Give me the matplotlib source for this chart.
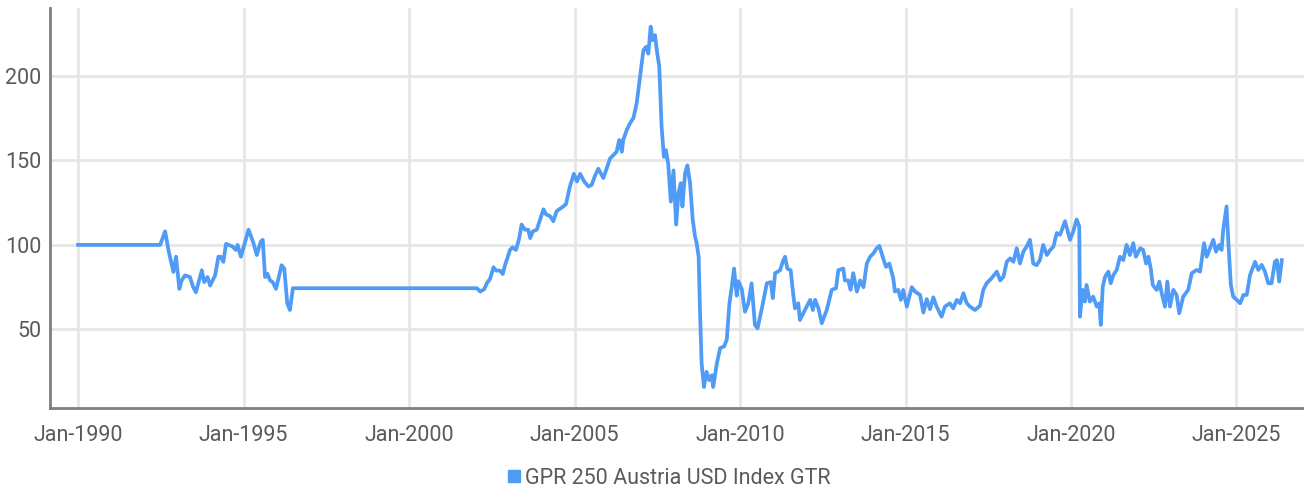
import matplotlib
matplotlib.use("Agg")
import matplotlib.pyplot as plt
from matplotlib.lines import Line2D

plt.rcParams['font.family'] = ['Roboto', 'DejaVu Sans']

series_name = "GPR 250 Austria USD Index GTR"

# index readings (decimal year, value)
years = [
    1990.00, 1992.48, 1992.63, 1992.73, 1992.88, 1992.96, 1993.06, 1993.13, 1993.23, 1993.38,
    1993.48, 1993.56, 1993.74, 1993.81, 1993.91, 1993.99, 1994.14, 1994.24, 1994.31, 1994.39,
    1994.47, 1994.67, 1994.77, 1994.82, 1994.92, 1995.15, 1995.30, 1995.40, 1995.52, 1995.58,
    1995.65, 1995.72, 1995.80, 1995.88, 1995.98, 1996.15, 1996.23, 1996.32, 1996.40, 1996.49,
    2002.05, 2002.15, 2002.27, 2002.35, 2002.45, 2002.55, 2002.63, 2002.75, 2002.83, 2002.90,
    2003.05, 2003.13, 2003.23, 2003.33, 2003.40, 2003.50, 2003.60, 2003.66, 2003.74, 2003.86,
    2003.96, 2004.06, 2004.14, 2004.26, 2004.36, 2004.46, 2004.61, 2004.74, 2004.86, 2004.98,
    2005.07, 2005.17, 2005.29, 2005.42, 2005.52, 2005.62, 2005.72, 2005.87, 2005.97, 2006.07,
    2006.17, 2006.27, 2006.35, 2006.43, 2006.47, 2006.58, 2006.68, 2006.78, 2006.88, 2006.98,
    2007.08, 2007.16, 2007.23, 2007.30, 2007.36, 2007.43, 2007.50, 2007.56, 2007.63, 2007.70,
    2007.76, 2007.83, 2007.91, 2007.99, 2008.07, 2008.14, 2008.21, 2008.26, 2008.34, 2008.41,
    2008.49, 2008.57, 2008.64, 2008.69, 2008.75, 2008.79, 2008.84, 2008.91, 2008.99, 2009.07,
    2009.15, 2009.19, 2009.30, 2009.40, 2009.52, 2009.60, 2009.68, 2009.75, 2009.82, 2009.90,
    2009.95, 2010.05, 2010.15, 2010.25, 2010.35, 2010.45, 2010.53, 2010.66, 2010.81, 2010.93,
    2010.99, 2011.06, 2011.21, 2011.29, 2011.36, 2011.43, 2011.53, 2011.61, 2011.66, 2011.76,
    2011.81, 2011.96, 2012.12, 2012.20, 2012.27, 2012.37, 2012.47, 2012.62, 2012.77, 2012.90,
    2012.97, 2013.12, 2013.17, 2013.27, 2013.34, 2013.42, 2013.53, 2013.63, 2013.73, 2013.83,
    2013.93, 2014.03, 2014.13, 2014.21, 2014.31, 2014.41, 2014.51, 2014.63, 2014.68, 2014.78,
    2014.86, 2014.93, 2015.04, 2015.19, 2015.29, 2015.44, 2015.54, 2015.64, 2015.74, 2015.84,
    2015.94, 2016.09, 2016.19, 2016.34, 2016.44, 2016.55, 2016.65, 2016.75, 2016.85, 2016.95,
    2017.10, 2017.25, 2017.35, 2017.45, 2017.60, 2017.76, 2017.86, 2017.96, 2018.06, 2018.16,
    2018.26, 2018.36, 2018.46, 2018.56, 2018.66, 2018.76, 2018.86, 2018.96, 2019.06, 2019.16,
    2019.27, 2019.37, 2019.47, 2019.57, 2019.67, 2019.82, 2019.97, 2020.07, 2020.17, 2020.25,
    2020.27, 2020.35, 2020.42, 2020.47, 2020.57, 2020.67, 2020.78, 2020.86, 2020.90, 2020.96,
    2021.03, 2021.13, 2021.20, 2021.28, 2021.38, 2021.48, 2021.58, 2021.68, 2021.78, 2021.88,
    2021.96, 2022.09, 2022.18, 2022.27, 2022.34, 2022.41, 2022.47, 2022.59, 2022.67, 2022.74,
    2022.84, 2022.91, 2022.99, 2023.09, 2023.19, 2023.27, 2023.39, 2023.54, 2023.65, 2023.80,
    2023.90, 2024.02, 2024.10, 2024.20, 2024.30, 2024.38, 2024.48, 2024.55, 2024.60, 2024.70,
    2024.75, 2024.83, 2024.90, 2025.01, 2025.11, 2025.21, 2025.31, 2025.41, 2025.56, 2025.66,
    2025.76, 2025.86, 2025.96, 2026.06, 2026.16, 2026.22, 2026.29, 2026.37,
]
values = [
    100.0, 100.0, 108.0, 97.0, 84.0, 93.0, 74.0, 79.0, 82.0, 81.0,
    75.0, 72.0, 85.0, 78.0, 81.0, 76.0, 82.0, 93.0, 93.0, 90.0,
    100.6, 99.0, 97.0, 100.0, 93.0, 109.0, 101.0, 94.0, 102.0, 103.0,
    81.0, 83.0, 79.0, 78.0, 74.0, 88.0, 86.0, 65.5, 61.5, 74.4,
    74.4, 72.4, 73.8, 77.3, 80.0, 86.8, 84.8, 84.8, 82.8, 88.0,
    97.0, 98.6, 97.0, 104.0, 112.0, 109.0, 109.0, 104.0, 108.0, 109.0,
    115.0, 121.0, 118.0, 117.0, 114.0, 120.0, 122.0, 124.0, 134.5, 142.0,
    137.5, 142.0, 137.5, 134.5, 135.5, 141.0, 145.0, 139.5, 145.0, 151.0,
    153.0, 155.0, 162.0, 155.0, 162.0, 168.0, 172.0, 175.0, 184.0, 199.6,
    215.0, 217.0, 213.0, 229.0, 221.0, 224.0, 213.0, 205.5, 170.0, 152.0,
    156.0, 148.0, 125.6, 144.0, 112.0, 130.6, 136.5, 122.7, 142.4, 147.0,
    136.5, 115.0, 105.0, 101.0, 93.0, 61.5, 30.0, 16.0, 25.0, 20.0,
    23.0, 16.0, 30.0, 39.0, 40.0, 44.0, 65.5, 75.0, 86.0, 70.0,
    78.5, 74.0, 60.5, 65.5, 77.3, 52.7, 50.7, 62.5, 77.3, 78.0,
    68.5, 83.3, 85.0, 90.0, 93.0, 86.0, 85.0, 70.4, 62.5, 65.5,
    55.6, 61.5, 67.5, 61.5, 67.5, 62.5, 53.7, 61.5, 73.4, 74.4,
    85.0, 86.0, 79.0, 79.0, 73.4, 83.3, 72.4, 79.0, 75.0, 89.0,
    93.0, 95.0, 98.0, 99.4, 93.0, 87.0, 89.0, 80.3, 72.4, 73.4,
    67.5, 73.4, 63.5, 75.0, 72.4, 70.4, 60.0, 68.0, 62.0, 69.0,
    63.5, 57.6, 63.5, 65.5, 62.5, 67.5, 65.5, 71.4, 65.5, 63.5,
    61.5, 64.0, 73.4, 77.3, 80.3, 84.2, 79.0, 81.2, 90.0, 92.0,
    90.0, 98.0, 89.0, 96.0, 99.0, 103.0, 89.0, 88.0, 91.0, 100.0,
    94.0, 97.0, 99.0, 107.0, 106.0, 114.0, 103.0, 108.0, 115.0, 111.0,
    57.6, 73.4, 66.5, 76.3, 66.5, 69.4, 63.5, 65.5, 52.7, 75.3,
    81.2, 84.2, 77.3, 82.2, 85.2, 93.0, 91.0, 100.0, 94.0, 101.0,
    93.0, 98.0, 97.0, 89.0, 93.0, 86.0, 76.3, 73.4, 78.3, 71.4,
    63.5, 78.3, 63.5, 73.4, 70.4, 59.6, 69.4, 73.4, 83.3, 85.2,
    84.2, 101.0, 93.0, 98.0, 103.0, 96.0, 100.0, 97.0, 109.0, 122.7,
    103.0, 76.3, 69.4, 67.5, 65.5, 70.4, 70.4, 82.2, 90.0, 85.2,
    88.2, 84.2, 77.3, 77.3, 90.0, 91.0, 78.3, 91.0,
]

tick_years = [1990, 1995, 2000, 2005, 2010, 2015, 2020, 2025]
tick_labels = ["Jan-1990", "Jan-1995", "Jan-2000", "Jan-2005",
               "Jan-2010", "Jan-2015", "Jan-2020", "Jan-2025"]
y_ticks = [50, 100, 150, 200]

line_color = "#4f9bf5"
text_color = "#5a5a5a"

fig = plt.figure(figsize=(13.04, 4.93), dpi=100)
ax = fig.add_axes([0.0383, 0.1724, 0.9617, 0.8114])

ax.plot(years, values, color=line_color, linewidth=2.7, solid_joinstyle='round')

ax.set_xlim(1989.15, 2027.04)
ax.set_ylim(3.6, 240)
ax.set_xticks(tick_years)
ax.set_xticklabels(tick_labels)
ax.set_yticks(y_ticks)
ax.grid(True, color="#e6e6e6", linewidth=2)
ax.set_axisbelow(True)
ax.tick_params(length=0, labelsize=15.5, colors=text_color)
ax.tick_params(axis='x', pad=12)
ax.tick_params(axis='y', pad=6)

for side in ['top', 'right']:
    ax.spines[side].set_visible(False)
for side in ['left', 'bottom']:
    ax.spines[side].set_color("#7f7f7f")
    ax.spines[side].set_linewidth(2)

handle = Line2D([], [], color=line_color, marker='s', linestyle='none', markersize=9)
fig.legend([handle], [series_name], loc='center', bbox_to_anchor=(0.512, 0.03),
           frameon=False, fontsize=15.5, labelcolor=text_color,
           handletextpad=0.1, handlelength=0.8)

fig.savefig("out.png", dpi=100)
